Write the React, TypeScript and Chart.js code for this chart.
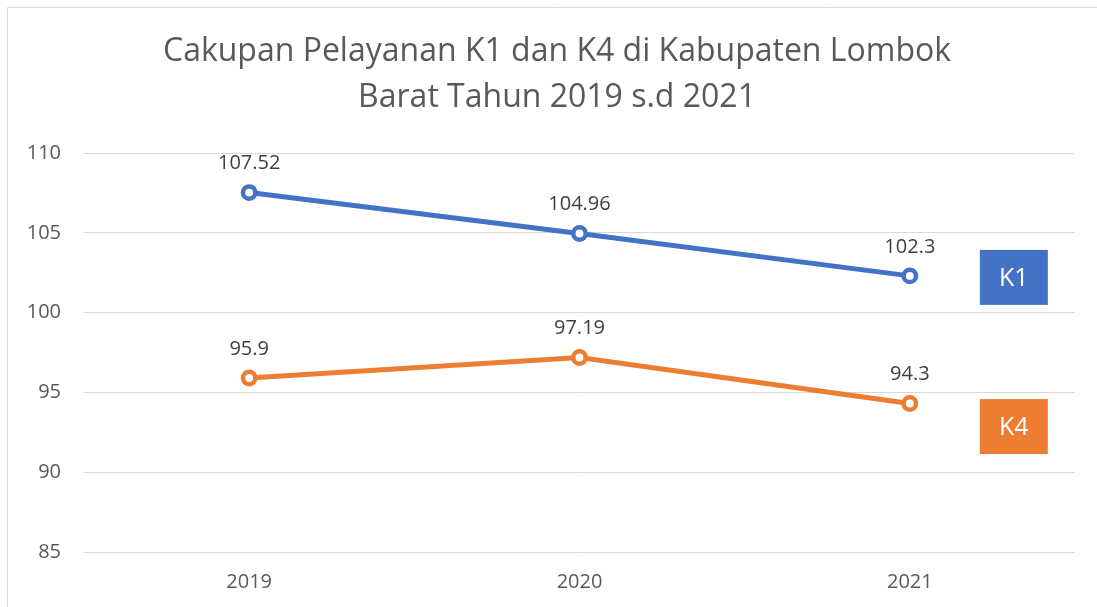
import React, { useEffect, useRef } from "react";
import { Chart, registerables } from "chart.js";

Chart.register(...registerables);

const categories = ["2019", "2020", "2021"];
const k1Values = [107.52, 104.96, 102.3];
const k4Values = [95.9, 97.19, 94.3];
const seriesNames = ["K1", "K4"];
const titleLines = ["Cakupan Pelayanan K1 dan K4 di Kabupaten Lombok", "Barat Tahun 2019 s.d 2021"];

const FONT = "'Open Sans', 'DejaVu Sans', sans-serif";
const BLUE = "#4472C4";
const ORANGE = "#ED7D31";

const framePlugin = {
  id: "frame",
  beforeDraw(chart: any) {
    const ctx = chart.ctx;
    ctx.save();
    ctx.fillStyle = "#ffffff";
    ctx.fillRect(0, 0, chart.width, chart.height);
    ctx.strokeStyle = "#D9D9D9";
    ctx.lineWidth = 1;
    ctx.beginPath();
    ctx.moveTo(7.5, chart.height);
    ctx.lineTo(7.5, 7.5);
    ctx.lineTo(chart.width, 7.5);
    ctx.stroke();
    // title
    ctx.fillStyle = "#595959";
    ctx.font = `32px ${FONT}`;
    ctx.textAlign = "center";
    ctx.textBaseline = "middle";
    titleLines.forEach((line, i) => {
      ctx.fillText(line, 557, 52 + i * 46);
    });
    ctx.restore();
  },
};

const labelPlugin = {
  id: "valueLabels",
  afterDatasetsDraw(chart: any) {
    const ctx = chart.ctx;
    ctx.save();
    ctx.font = `20px ${FONT}`;
    ctx.fillStyle = "#404040";
    ctx.textAlign = "center";
    ctx.textBaseline = "middle";
    chart.data.datasets.forEach((ds: any, i: number) => {
      const meta = chart.getDatasetMeta(i);
      meta.data.forEach((pt: any, j: number) => {
        ctx.fillText(String(ds.data[j]), pt.x, pt.y - 29);
      });
    });
    // series name boxes at end of lines
    const offsets = [1.5, 23];
    chart.data.datasets.forEach((ds: any, i: number) => {
      const meta = chart.getDatasetMeta(i);
      const last = meta.data[meta.data.length - 1];
      const cx = last.x + 104;
      const cy = last.y + offsets[i];
      const w = 68;
      const h = 55;
      ctx.fillStyle = ds.borderColor;
      ctx.fillRect(cx - w / 2, cy - h / 2, w, h);
      ctx.fillStyle = "#ffffff";
      ctx.font = `25px ${FONT}`;
      ctx.fillText(ds.label, cx, cy + 1);
    });
    ctx.restore();
  },
};

export default function App() {
  const ref = useRef<HTMLCanvasElement>(null);
  useEffect(() => {
    if (!ref.current) return;
    const chart = new Chart(ref.current, {
      type: "line",
      data: {
        labels: categories,
        datasets: [
          {
            label: seriesNames[0],
            data: k1Values,
            borderColor: BLUE,
            backgroundColor: "#ffffff",
            borderWidth: 5,
            pointRadius: 6.2,
            pointBorderWidth: 4.5,
            pointBackgroundColor: "#ffffff",
            pointBorderColor: BLUE,
          },
          {
            label: seriesNames[1],
            data: k4Values,
            borderColor: ORANGE,
            backgroundColor: "#ffffff",
            borderWidth: 5,
            pointRadius: 6.2,
            pointBorderWidth: 4.5,
            pointBackgroundColor: "#ffffff",
            pointBorderColor: ORANGE,
          },
        ],
      },
      options: {
        responsive: false,
        animation: false,
        layout: { padding: { left: 0, right: 22, top: 153, bottom: 0 } },
        plugins: {
          legend: { display: false },
          tooltip: { enabled: false },
          title: { display: false },
        },
        scales: {
          x: {
            offset: true,
            afterFit: (s: any) => {
              s.height = 55;
            },
            grid: { display: false, drawTicks: false },
            border: { display: false },
            ticks: { color: "#595959", font: { family: FONT, size: 20 }, padding: 18 },
          },
          y: {
            min: 85,
            max: 110,
            afterFit: (s: any) => {
              s.width = 84;
            },
            grid: { color: "#D9D9D9", lineWidth: 1, drawTicks: false },
            border: { display: false },
            ticks: { stepSize: 5, color: "#595959", font: { family: FONT, size: 20 }, padding: 23 },
          },
        },
      },
      plugins: [framePlugin, labelPlugin],
    });
    return () => chart.destroy();
  }, []);
  return (
    <div style={{ position: "absolute", left: 0, top: 0, width: 1097, height: 607 }}>
      <canvas ref={ref} width={1097} height={607} />
    </div>
  );
}
